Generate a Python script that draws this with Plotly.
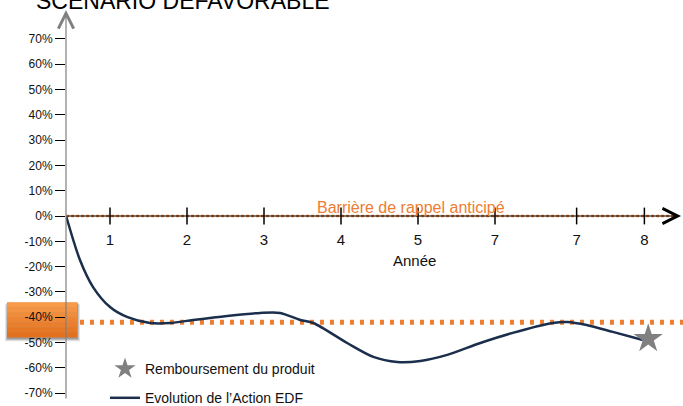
import plotly.graph_objects as go

# ---------------- data ----------------
x_tick_vals = [1, 2, 3, 4, 5, 6, 7.06, 7.94]
x_tick_text = ["1", "2", "3", "4", "5", "7", "7", "8"]
y_tick_vals = [70, 60, 50, 40, 30, 20, 10, 0, -10, -20, -30, -40, -50, -60, -70]
y_tick_text = [f"{v}%" for v in y_tick_vals]

curve_x = [0.43, 0.61, 0.78, 1.0, 1.22, 1.52, 1.78, 2.08, 2.52, 2.95, 3.21, 3.47,
           3.64, 4.08, 4.42, 4.73, 5.03, 5.38, 5.81, 6.23, 6.75, 6.94, 7.19, 7.53, 7.92]
curve_y = [0, -17.4, -28.1, -36.0, -39.9, -42.3, -42.3, -41.1, -39.5, -38.3, -38.3, -41.1,
           -42.3, -50.2, -55.7, -57.7, -57.3, -54.9, -50.2, -46.2, -42.3, -41.9, -43.1, -45.8, -49.0]

star_x = [7.99]
star_y = [-48.5]

recall_barrier = 0
capital_barrier = -42
recall_x = [0.43, 8.36]
barrier_x = [0.48, 8.45]

x_origin = 0.4286
x_arrow_end = 8.416
y_axis_bottom = -72.7
y_axis_top = 81.4
x_range = [0.4286, 8.4416]
y_range = [-75.1, 85.38]

label_year_y = -10
annee_x, annee_y = 4.95, -17.4
barrier_label_x = 4.91

title_text = "SCENARIO DEFAVORABLE"
barrier_text = "Barrière de rappel anticipé"
legend_star = "Remboursement du produit"
legend_line = "Evolution de l’Action EDF"

# ---------------- styles ----------------
ORANGE = "#ED7D31"
NAVY = "#1B2F4D"
GREY = "#808080"
FONT = "Liberation Sans, Arial, sans-serif"

fig = go.Figure()

# recall barrier (orange dashes over the x axis)
fig.add_trace(go.Scatter(
    x=recall_x, y=[recall_barrier] * len(recall_x), mode="lines",
    line=dict(color=ORANGE, width=2.5, dash="3px,2px"),
    showlegend=False, hoverinfo="skip"))

# capital barrier (dotted)
fig.add_trace(go.Scatter(
    x=barrier_x, y=[capital_barrier] * len(barrier_x), mode="lines",
    line=dict(color=ORANGE, width=5, dash="4px,6px"),
    showlegend=False, hoverinfo="skip"))

# x tick marks crossing the axis
fig.add_trace(go.Scatter(
    x=x_tick_vals, y=[0] * len(x_tick_vals), mode="markers",
    marker=dict(symbol="line-ns", size=12, line=dict(color="black", width=1.5)),
    showlegend=False, hoverinfo="skip"))

# x tick labels
fig.add_trace(go.Scatter(
    x=x_tick_vals, y=[label_year_y] * len(x_tick_vals), mode="text",
    text=x_tick_text, textfont=dict(family=FONT, size=15, color="#111111"),
    showlegend=False, hoverinfo="skip"))

# share evolution
fig.add_trace(go.Scatter(
    x=curve_x, y=curve_y, mode="lines", name=legend_line, legendgroup="b", legendrank=2,
    line=dict(color=NAVY, width=2.5, shape="spline", smoothing=0.8)))

# star on top of the curve, listed first in the legend
fig.add_trace(go.Scatter(
    x=star_x, y=star_y, mode="markers", name=legend_star, legendgroup="a", legendrank=1,
    marker=dict(symbol="star", size=22, color=GREY, line=dict(width=0))))

shapes = []
# shadow of the orange box
for off, alpha in [(4, 0.10), (3, 0.15), (2, 0.2)]:
    shapes.append(dict(type="rect", xref="paper", yref="y", layer="below",
                       xsizemode="pixel", ysizemode="pixel", xanchor=0, yanchor=capital_barrier,
                       x0=-59 - off + 2, x1=11 + off - 1, y0=-15 - off, y1=20 - off + 2,
                       line=dict(width=0), fillcolor=f"rgba(0,0,0,{alpha})"))
# orange gradient box
top = (248, 154, 72)
bot = (226, 112, 30)
n = 7
h = 35
for i in range(n):
    t = i / (n - 1)
    c = tuple(round(top[k] + (bot[k] - top[k]) * t) for k in range(3))
    y1 = 20 - i * h / n
    y0 = 20 - (i + 1) * h / n
    shapes.append(dict(type="rect", xref="paper", yref="y", layer="below",
                       xsizemode="pixel", ysizemode="pixel", xanchor=0, yanchor=capital_barrier,
                       x0=-59, x1=11, y0=y0 - 0.3, y1=y1,
                       line=dict(width=0), fillcolor=f"rgb{c}"))

annotations = [
    # y axis with arrow
    dict(x=x_origin, y=y_axis_top, ax=x_origin, ay=y_axis_bottom, xref="x", yref="y",
         axref="x", ayref="y", text="", showarrow=True, arrowhead=5, arrowsize=2.5,
         arrowwidth=1.2, arrowcolor=GREY, standoff=0, startstandoff=0),
    # x axis with arrow
    dict(x=x_arrow_end, y=0, ax=x_origin, ay=0, xref="x", yref="y",
         axref="x", ayref="y", text="", showarrow=True, arrowhead=5, arrowsize=2.5,
         arrowwidth=1.2, arrowcolor="black", standoff=0, startstandoff=0),
    dict(x=annee_x, y=annee_y, xref="x", yref="y", text="Année", showarrow=False,
         font=dict(family=FONT, size=15, color="#111111")),
    dict(x=barrier_label_x, y=recall_barrier, xref="x", yref="y", text=barrier_text,
         showarrow=False, yshift=9, font=dict(family=FONT, size=16, color=ORANGE)),
    dict(x=(182.5 - 66) / 617, y=1, xref="paper", yref="paper", text=title_text,
         showarrow=False, xanchor="center", yanchor="middle", yshift=-1,
         font=dict(family=FONT, size=23, color="black")),
]

fig.update_layout(
    width=683, height=406,
    margin=dict(l=66, r=0, t=0, b=0, pad=0, autoexpand=False),
    paper_bgcolor="white", plot_bgcolor="rgba(0,0,0,0)",
    font=dict(family=FONT, color="#111111"),
    shapes=shapes, annotations=annotations,
    showlegend=True,
    legend=dict(x=(105 - 66) / 617, y=1 - 353 / 406, xanchor="left", yanchor="top",
                bgcolor="rgba(0,0,0,0)", font=dict(family=FONT, size=14, color="#111111"),
                tracegroupgap=8, traceorder="grouped"),
    xaxis=dict(range=x_range, showgrid=False, zeroline=False, showline=False,
               showticklabels=False, ticks="", fixedrange=True),
    yaxis=dict(range=y_range, showgrid=False, zeroline=False, showline=False,
               tickvals=y_tick_vals, ticktext=y_tick_text, ticks="outside", ticklen=10,
               tickwidth=1, tickcolor="black", automargin=False,
               tickfont=dict(family=FONT, size=12, color="#111111"), fixedrange=True),
)

fig.write_html("out.html", config={"displayModeBar": False},
               post_script="document.body.style.margin='0';")
